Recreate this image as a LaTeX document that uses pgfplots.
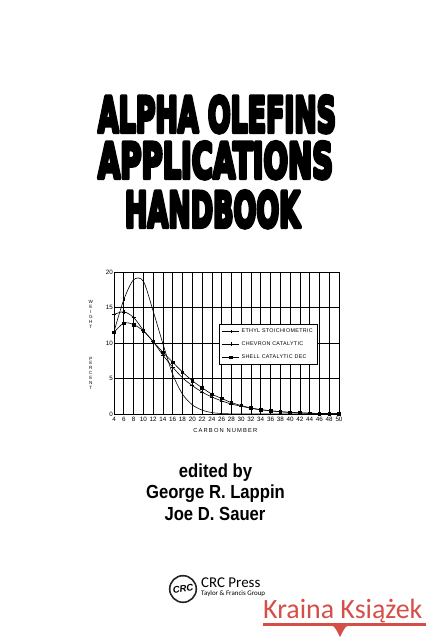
\documentclass[border=0pt]{standalone}
\usepackage{fontspec}
\setmainfont{Liberation Sans}
\newfontfamily\carlito{Carlito}
\newfontfamily\heavyfont{DejaVu Sans}
\usepackage{graphicx}
\usepackage{pgfplots}
\pgfplotsset{compat=1.18}

\definecolor{wmred}{RGB}{214,78,72}

% extra-heavy weight: fill and stroke the glyphs
\newcommand\heavy[1]{\special{pdf:literal direct 2 Tr 0.9 w 1 j}#1\special{pdf:literal direct 0 Tr}}

\begin{document}
\begin{tikzpicture}
\path[use as bounding box, fill=white] (0,0) rectangle (426bp,640bp);

% title
\node[anchor=base, inner sep=0] at (217bp,508bp)
  {\resizebox{238bp}{36bp}{\heavyfont\bfseries\heavy{ALPHA OLEFINS}}};
\node[anchor=base, inner sep=0] at (215.5bp,462bp)
  {\resizebox{235bp}{36bp}{\heavyfont\bfseries\heavy{APPLICATIONS}}};
\node[anchor=base, inner sep=0] at (212.5bp,413bp)
  {\resizebox{175bp}{36bp}{\heavyfont\bfseries\heavy{HANDBOOK}}};

\begin{axis}[
    at={(114bp,226bp)}, anchor=south west,
    scale only axis,
    width=225bp, height=142bp,
    xmin=4, xmax=50, ymin=0, ymax=20,
    xtick={4,6,...,50},
    ytick={0,5,10,15,20},
    grid=major,
    major grid style={black, line width=0.6bp},
    axis line style={black, line width=0.8bp},
    tick style={draw=none},
    /pgf/number format/assume math mode=true,
    ticklabel style={font=\fontsize{6.3}{7}\selectfont, inner sep=1pt},
    xticklabel style={yshift=-2bp},
    xlabel={\addfontfeatures{LetterSpace=20}CARBON NUMBER},
    xlabel style={font=\fontsize{5.8}{6}\selectfont, at={(axis description cs:0.495,-0.115)}, anchor=center},
    ylabel={W\\E\\I\\G\\H\\T\\[27pt]P\\E\\R\\C\\E\\N\\T},
    ylabel style={font=\fontsize{4.6}{4.9}\selectfont, align=center, rotate=-90,
      at={(axis description cs:-0.103,0.486)}, anchor=center},
    legend style={at={(axis description cs:0.465,0.634)}, anchor=north west,
      draw=black, line width=0.8bp, fill=white,
      font=\fontsize{5.4}{6}\selectfont, row sep=3.6pt,
      inner xsep=3pt, inner ysep=2.5pt},
    legend cell align=left,
]
\addplot[black, line width=0.6bp, smooth, mark=|, mark size=1.5bp,
         mark options={line width=0.5bp}] coordinates {
    (4,11.6) (6,16.1) (8,18.9) (10,18.7) (12,14.5) (14,9.9) (16,5.6)
    (18,2.8) (20,1.3) (22,0.55) (24,0.2) (26,0.06) (28,0.02) (30,0)
    (32,0) (34,0) (36,0) (38,0) (40,0) (42,0) (44,0) (46,0) (48,0) (50,0)
};
\addlegendentry{\addfontfeatures{LetterSpace=6}ETHYL STOICHIOMETRIC}

\addplot[black, line width=0.6bp, smooth, mark=+, mark size=2bp,
         mark options={line width=0.5bp}] coordinates {
    (4,14.0) (6,14.4) (8,13.6) (10,11.8) (12,10.2) (14,8.3) (16,6.6)
    (18,5.1) (20,4.0) (22,3.1) (24,2.4) (26,1.85) (28,1.4) (30,1.1)
    (32,0.8) (34,0.6) (36,0.45) (38,0.33) (40,0.24) (42,0.17) (44,0.12)
    (46,0.08) (48,0.06) (50,0.04)
};
\addlegendentry{\addfontfeatures{LetterSpace=6}CHEVRON CATALYTIC}

\addplot[black, line width=0.6bp, smooth, mark=square*, mark size=1.3bp] coordinates {
    (4,11.5) (6,12.8) (8,12.6) (10,11.7) (12,10.2) (14,8.7) (16,7.3)
    (18,5.9) (20,4.7) (22,3.7) (24,2.8) (26,2.2) (28,1.6) (30,1.2)
    (32,0.85) (34,0.62) (36,0.45) (38,0.32) (40,0.22) (42,0.15) (44,0.1)
    (46,0.07) (48,0.05) (50,0.03)
};
\addlegendentry{\addfontfeatures{LetterSpace=6}SHELL CATALYTIC DEC}
\end{axis}

% editors
\node[anchor=base, inner sep=0] at (215.5bp,162bp)
  {\fontsize{19}{19}\selectfont\bfseries\scalebox{0.88}[1]{edited by}};
\node[anchor=base, inner sep=0] at (215.5bp,141bp)
  {\fontsize{19}{19}\selectfont\bfseries\scalebox{0.88}[1]{George R. Lappin}};
\node[anchor=base, inner sep=0] at (215bp,119bp)
  {\fontsize{19}{19}\selectfont\bfseries\scalebox{0.88}[1]{Joe D. Sauer}};

% publisher logo
\draw[black!85, line width=1.6bp] (183bp,51bp) circle (13.3bp);
\node[inner sep=0, rotate=8] at (183bp,51bp)
  {\fontsize{9.5}{10}\selectfont\bfseries\itshape CRC};
\node[anchor=base west, inner sep=0] at (201bp,52bp)
  {\carlito\fontsize{15}{15}\selectfont CRC Press};
\node[anchor=base west, inner sep=0] at (201bp,44.5bp)
  {\carlito\fontsize{7}{7}\selectfont Taylor \& Francis Group};

% watermark
\node[anchor=base west, inner sep=0, text=wmred] at (263bp,22bp)
  {\carlito\fontsize{28}{28}\selectfont Kraina Książek};
\fill[wmred] (263bp,13.5bp) rectangle (426bp,16.5bp);
\fill[wmred] (323bp,16bp) .. controls (334bp,15bp) .. (340bp,3bp)
  .. controls (346bp,15bp) .. (357bp,16bp) -- cycle;
\end{tikzpicture}
\end{document}
